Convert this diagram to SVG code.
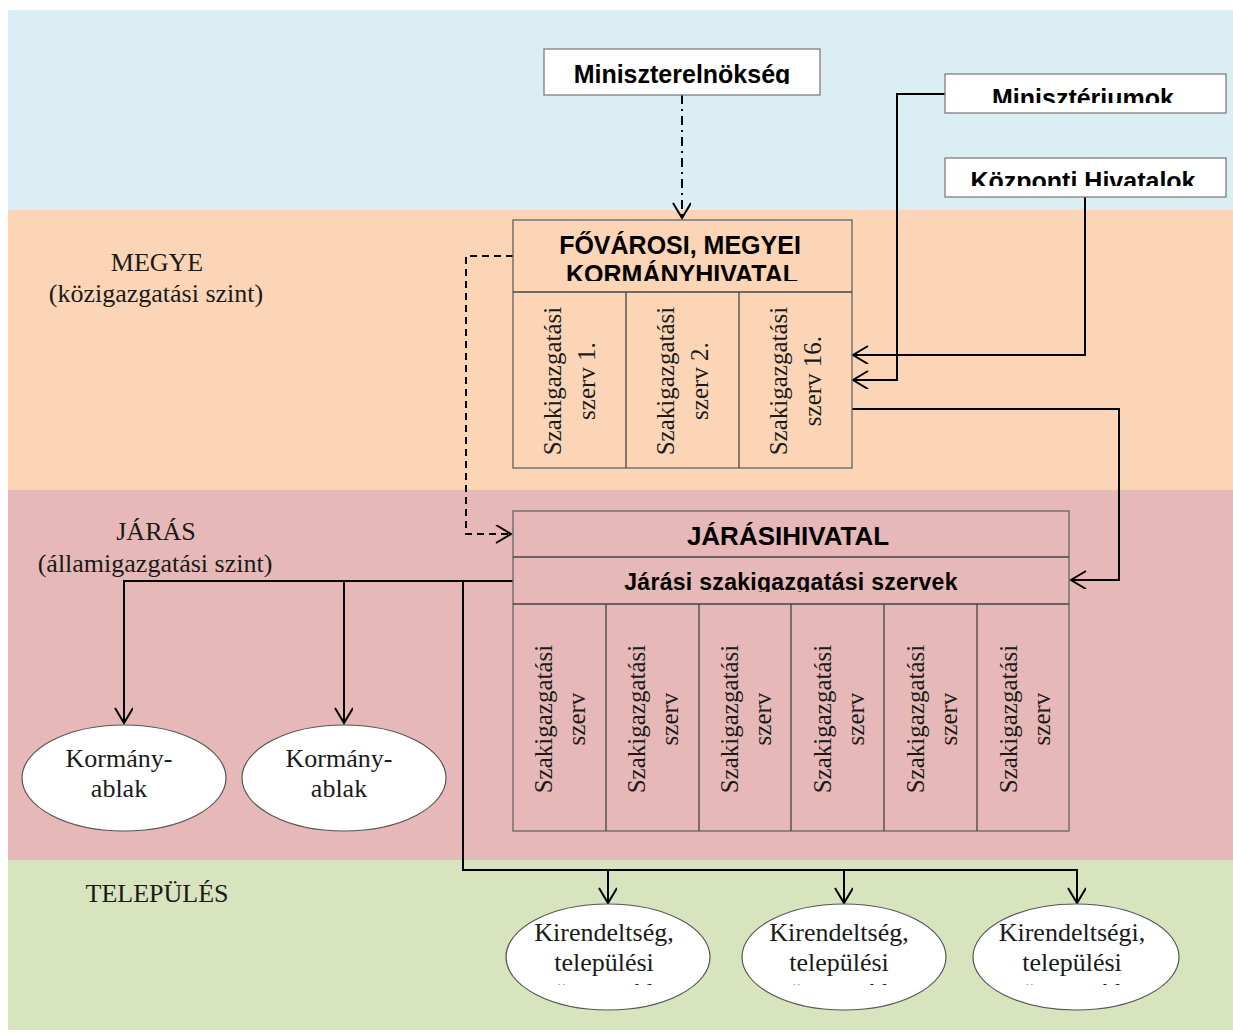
<svg xmlns="http://www.w3.org/2000/svg" width="1233" height="1034" viewBox="0 0 1233 1034">
<style>
.box{fill:#fff;stroke:#7f7f7f;stroke-width:1.3}
.frame{fill:none;stroke:#6b6b6b;stroke-width:1.4}
.div{stroke:#444;stroke-width:1.3}
.ell{fill:#fff;stroke:#555;stroke-width:1.2}
.hb{font-family:"Liberation Sans",Arial,sans-serif;font-weight:bold;fill:#000;text-anchor:middle}
.sr{font-family:"Liberation Serif","Times New Roman",serif;fill:#1a1a1a;text-anchor:middle;font-size:26px}
.col{font-family:"Liberation Serif","Times New Roman",serif;fill:#1a1a1a;text-anchor:middle;font-size:25px}
.con{fill:none;stroke:#000;stroke-width:2}
</style>
<defs>
<marker id="arr" viewBox="0 0 18 20" refX="16" refY="9" markerWidth="18" markerHeight="20" markerUnits="userSpaceOnUse" orient="auto">
<path d="M1,0 L16,9 L1,18" fill="none" stroke="#000" stroke-width="2"/>
</marker>
<clipPath id="cMin"><rect x="544" y="49" width="276" height="35"/></clipPath>
<clipPath id="cMinisz"><rect x="945" y="74" width="281" height="29"/></clipPath>
<clipPath id="cKozp"><rect x="945" y="158" width="281" height="28"/></clipPath>
<clipPath id="cKorm"><rect x="513" y="220" width="339" height="61"/></clipPath>
<clipPath id="cJar"><rect x="513" y="557" width="556" height="35"/></clipPath>
<clipPath id="cEll"><rect x="500" y="900" width="700" height="85"/></clipPath>
</defs>

<rect x="0" y="0" width="1233" height="1034" fill="#fff"/>
<g id="bands">
<rect x="8" y="10" width="1225" height="200" fill="#DAEEF3"/>
<rect x="8" y="210" width="1225" height="280" fill="#FBD5B5"/>
<rect x="8" y="490" width="1225" height="370" fill="#E6B9B8"/>
<rect x="8" y="860" width="1225" height="170" fill="#D7E4BD"/>
</g>

<g id="level-labels">
<text class="sr" x="157" y="271">MEGYE</text>
<text class="sr" x="156" y="302">(közigazgatási szint)</text>
<text class="sr" x="156" y="540">JÁRÁS</text>
<text class="sr" x="155" y="572">(államigazgatási szint)</text>
<text class="sr" x="157" y="902">TELEPÜLÉS</text>
</g>

<g id="connectors">
<path class="con" d="M682,95 L682,218" stroke-dasharray="9,5,2,5" marker-end="url(#arr)"/>
<path class="con" d="M945,94 L897,94 L897,380 L853,380" marker-end="url(#arr)"/>
<path class="con" d="M1085,197 L1085,355 L853,355" marker-end="url(#arr)"/>
<path class="con" d="M852,409 L1119,409 L1119,580 L1071,580" marker-end="url(#arr)"/>
<path class="con" d="M513,256 L466,256 L466,534 L511,534" stroke-width="1.8" stroke-dasharray="7,5" marker-end="url(#arr)"/>
<path class="con" d="M513,581 L124,581 L124,723" marker-end="url(#arr)"/>
<path class="con" d="M344,581 L344,723" marker-end="url(#arr)"/>
<path class="con" d="M463,581 L463,870 L1077,870"/>
<path class="con" d="M608,870 L608,903" marker-end="url(#arr)"/>
<path class="con" d="M844,870 L844,903" marker-end="url(#arr)"/>
<path class="con" d="M1077,869 L1077,903" marker-end="url(#arr)"/>
</g>

<g id="miniszterelnokseg">
<rect class="box" x="544" y="49" width="276" height="46"/>
<text class="hb" x="682" y="83" font-size="25" clip-path="url(#cMin)">Miniszterelnökség</text>
</g>

<g id="miniszteriumok">
<rect class="box" x="945" y="74" width="281" height="39"/>
<text class="hb" x="1083" y="107" font-size="25" clip-path="url(#cMinisz)">Minisztériumok</text>
</g>

<g id="kozponti-hivatalok">
<rect class="box" x="945" y="158" width="281" height="39"/>
<text class="hb" x="1083" y="190" font-size="25" clip-path="url(#cKozp)">Központi Hivatalok</text>
</g>

<g id="kormanyhivatal">
<rect class="frame" x="513" y="220" width="339" height="248"/>
<line class="div" x1="513" y1="292" x2="852" y2="292"/>
<line class="div" x1="626" y1="292" x2="626" y2="468"/>
<line class="div" x1="739" y1="292" x2="739" y2="468"/>
<text class="hb" x="680" y="254" font-size="25">FŐVÁROSI, MEGYEI</text>
<text class="hb" x="682" y="283" font-size="25" clip-path="url(#cKorm)">KORMÁNYHIVATAL</text>
<text class="col" transform="translate(561,381) rotate(-90)">Szakigazgatási</text>
<text class="col" transform="translate(595,381) rotate(-90)">szerv 1.</text>
<text class="col" transform="translate(674,381) rotate(-90)">Szakigazgatási</text>
<text class="col" transform="translate(708,381) rotate(-90)">szerv 2.</text>
<text class="col" transform="translate(787,381) rotate(-90)">Szakigazgatási</text>
<text class="col" transform="translate(821,381) rotate(-90)">szerv 16.</text>
</g>

<g id="jarasi-hivatal">
<rect class="frame" x="513" y="511" width="556" height="320"/>
<line class="div" x1="513" y1="557" x2="1069" y2="557"/>
<line class="div" x1="513" y1="604" x2="1069" y2="604"/>
<line class="div" x1="606" y1="604" x2="606" y2="831"/>
<line class="div" x1="699" y1="604" x2="699" y2="831"/>
<line class="div" x1="791" y1="604" x2="791" y2="831"/>
<line class="div" x1="884" y1="604" x2="884" y2="831"/>
<line class="div" x1="977" y1="604" x2="977" y2="831"/>
<text class="hb" x="788" y="545" font-size="26">JÁRÁSIHIVATAL</text>
<text class="hb" x="791" y="590" font-size="23" letter-spacing="0.3" clip-path="url(#cJar)">Járási szakigazgatási  szervek</text>
<text class="col" transform="translate(552,719) rotate(-90)">Szakigazgatási</text>
<text class="col" transform="translate(585,719) rotate(-90)">szerv</text>
<text class="col" transform="translate(645,719) rotate(-90)">Szakigazgatási</text>
<text class="col" transform="translate(678,719) rotate(-90)">szerv</text>
<text class="col" transform="translate(738,719) rotate(-90)">Szakigazgatási</text>
<text class="col" transform="translate(771,719) rotate(-90)">szerv</text>
<text class="col" transform="translate(831,719) rotate(-90)">Szakigazgatási</text>
<text class="col" transform="translate(864,719) rotate(-90)">szerv</text>
<text class="col" transform="translate(924,719) rotate(-90)">Szakigazgatási</text>
<text class="col" transform="translate(957,719) rotate(-90)">szerv</text>
<text class="col" transform="translate(1017,719) rotate(-90)">Szakigazgatási</text>
<text class="col" transform="translate(1050,719) rotate(-90)">szerv</text>
</g>

<g id="kormanyablak-1">
<ellipse class="ell" cx="124" cy="778" rx="102" ry="53"/>
<text class="sr" x="119" y="767">Kormány-</text>
<text class="sr" x="119" y="797">ablak</text>
</g>
<g id="kormanyablak-2">
<ellipse class="ell" cx="344" cy="778" rx="102" ry="53"/>
<text class="sr" x="339" y="767">Kormány-</text>
<text class="sr" x="339" y="797">ablak</text>
</g>

<g id="kirendeltseg-1">
<ellipse class="ell" cx="608" cy="957" rx="102" ry="53"/>
<text class="sr" x="604" y="941">Kirendeltség,</text>
<text class="sr" x="604" y="971">települési</text>
<text class="sr" x="604" y="1001" clip-path="url(#cEll)">ügysegéd</text>
</g>
<g id="kirendeltseg-2">
<ellipse class="ell" cx="844" cy="957" rx="102" ry="53"/>
<text class="sr" x="839" y="941">Kirendeltség,</text>
<text class="sr" x="839" y="971">települési</text>
<text class="sr" x="839" y="1001" clip-path="url(#cEll)">ügysegéd</text>
</g>
<g id="kirendeltseg-3">
<ellipse class="ell" cx="1076" cy="957" rx="103" ry="53"/>
<text class="sr" x="1072" y="941">Kirendeltségi,</text>
<text class="sr" x="1072" y="971">települési</text>
<text class="sr" x="1072" y="1001" clip-path="url(#cEll)">ügysegéd</text>
</g>
</svg>
